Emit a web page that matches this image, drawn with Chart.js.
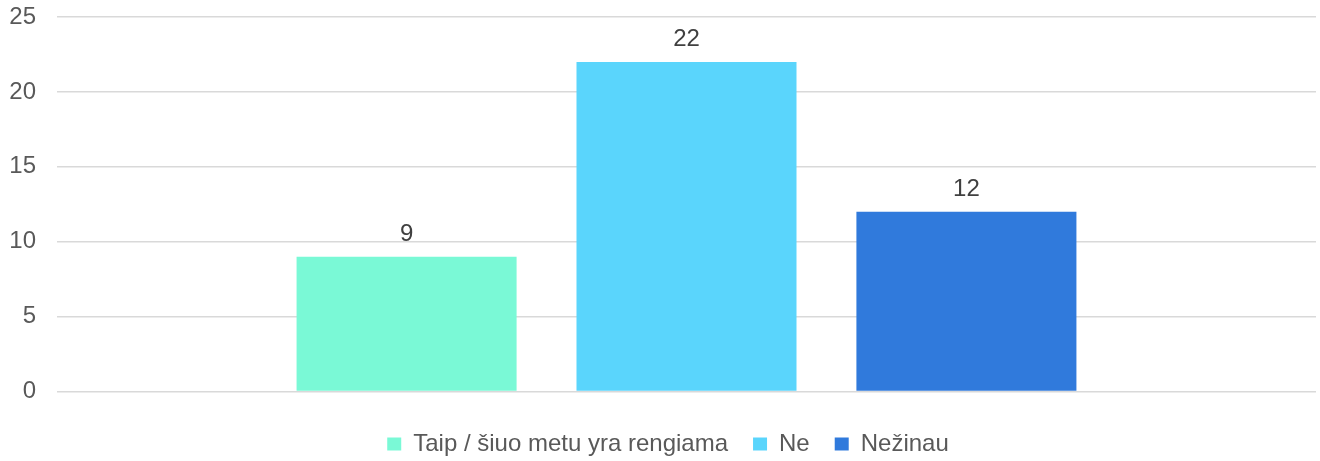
<!DOCTYPE html>
<html>
<head>
<meta charset="utf-8">
<script src="https://cdn.jsdelivr.net/npm/chart.js@4"></script>
<style>
  html, body { margin: 0; padding: 0; background: #ffffff; }
  #wrap { width: 1320px; height: 461px; }
</style>
</head>
<body>
<div id="wrap"><canvas id="chart" width="1320" height="461"></canvas></div>
<script>
// Answer categories and their counts
const categories = ['Taip / šiuo metu yra rengiama', 'Ne', 'Nežinau'];
const counts = [9, 22, 12];
const barColors = ['#7AF9D6', '#5AD5FC', '#307ADC'];

// Value axis
const yMin = 0;
const yMax = 25;
const yStep = 5;

const textGrey = '#595959';
const labelGrey = '#404040';
const fontFamily = "'Liberation Sans', Arial, sans-serif";

Chart.defaults.font.family = fontFamily;
Chart.defaults.color = textGrey;

// Writes each bar's value just above it
const valueLabels = {
  id: 'valueLabels',
  afterDatasetsDraw(chart) {
    const ctx = chart.ctx;
    ctx.save();
    ctx.font = '24px ' + fontFamily;
    ctx.fillStyle = labelGrey;
    ctx.textAlign = 'center';
    ctx.textBaseline = 'alphabetic';
    chart.data.datasets.forEach((ds, i) => {
      const meta = chart.getDatasetMeta(i);
      meta.data.forEach((bar, j) => {
        ctx.fillText(String(ds.data[j]), bar.x, bar.y - 16);
      });
    });
    ctx.restore();
  }
};

// Nudges the legend row a little to the right of the canvas centre
const legendOffset = {
  id: 'legendOffset',
  afterLayout(chart) {
    if (chart.legend) {
      chart.legend.left += 10;
      chart.legend.right += 10;
    }
  }
};

const datasets = categories.map((name, i) => ({
  label: name,
  data: [counts[i]],
  backgroundColor: barColors[i],
  borderWidth: 0,
  categoryPercentage: 0.667,
  barPercentage: 0.786
}));

new Chart(document.getElementById('chart'), {
  type: 'bar',
  data: { labels: [''], datasets },
  options: {
    responsive: false,
    animation: false,
    events: [],
    layout: { padding: { left: 0, right: 4, top: 17, bottom: -5 } },
    scales: {
      x: {
        grid: { display: false },
        border: { display: false },
        ticks: { display: false },
        afterFit(scale) { scale.height = 15.5; }
      },
      y: {
        min: yMin,
        max: yMax,
        ticks: {
          stepSize: yStep,
          padding: 0,
          color: textGrey,
          font: { size: 24 }
        },
        grid: {
          color: '#d9d9d9',
          lineWidth: 1.5,
          drawTicks: true,
          tickLength: 21,
          tickColor: 'rgba(0,0,0,0)'
        },
        border: { display: false },
        afterFit(scale) { scale.width = 57; }
      }
    },
    plugins: {
      tooltip: { enabled: false },
      legend: {
        position: 'bottom',
        labels: {
          boxWidth: 14,
          boxHeight: 13,
          padding: 25,
          color: textGrey,
          font: { size: 24 }
        }
      }
    }
  },
  plugins: [valueLabels, legendOffset]
});
</script>
</body>
</html>
